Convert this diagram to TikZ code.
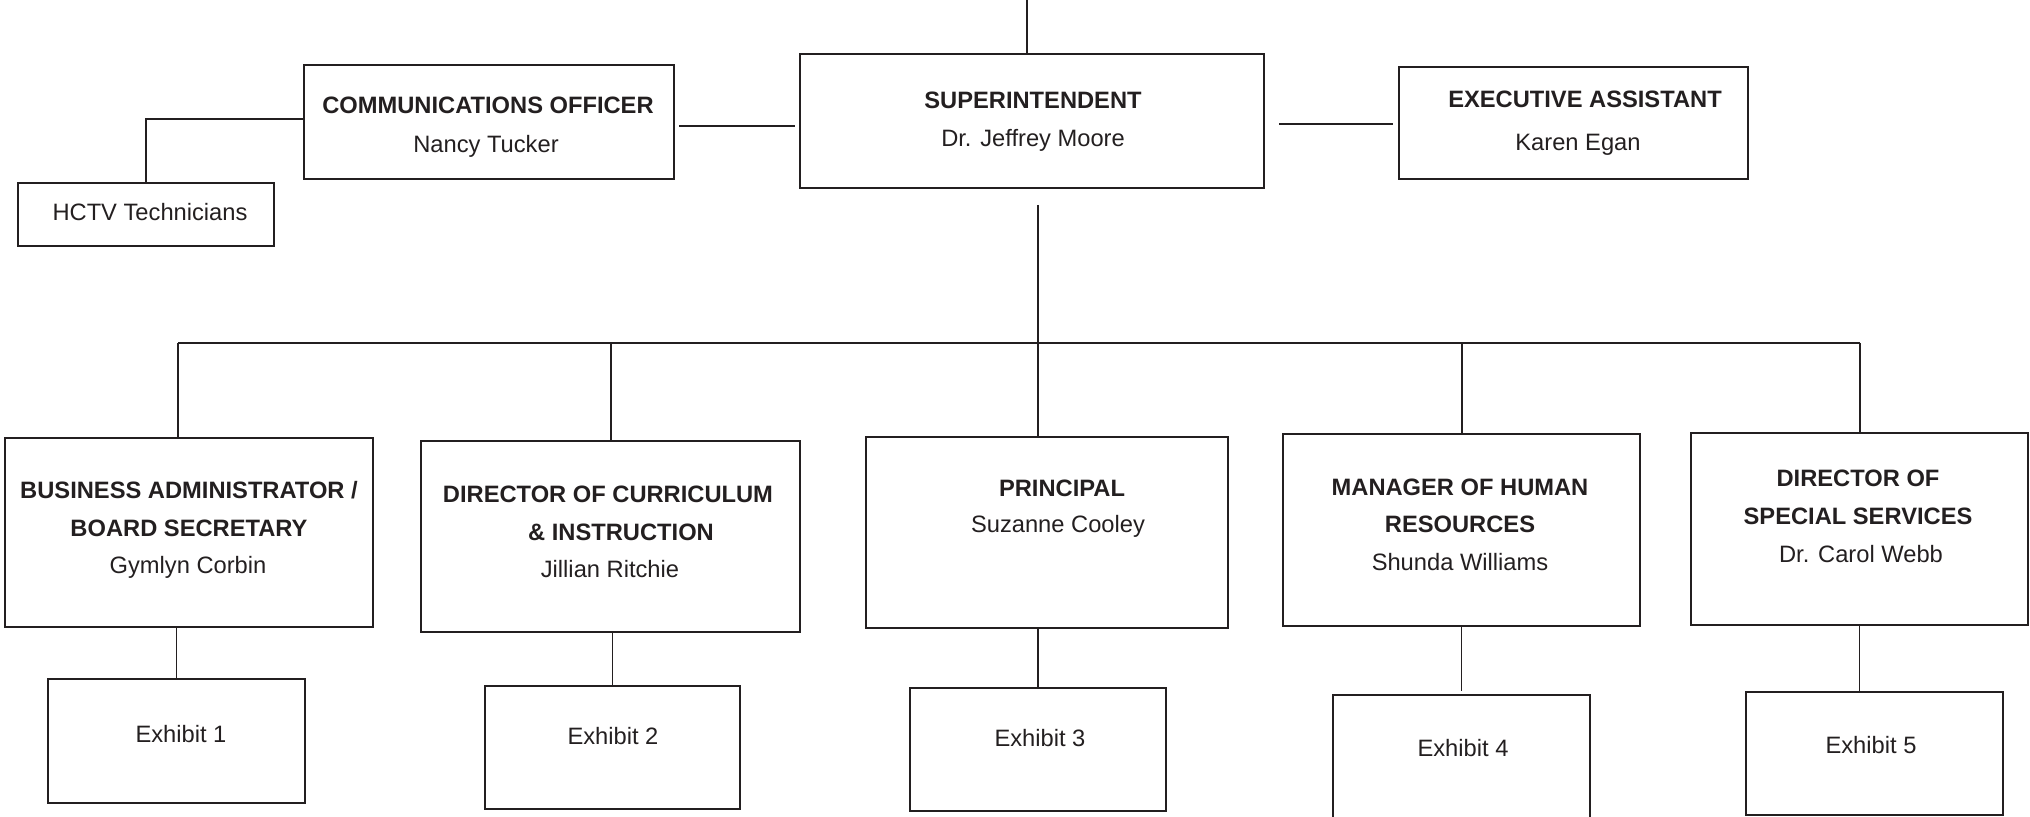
\documentclass[tikz,border=0pt]{standalone}
\usepackage{fontspec}
\setmainfont{Liberation Sans}
\usetikzlibrary{fit,calc}
\definecolor{ink}{HTML}{231F20}
\begin{document}
\begin{tikzpicture}[x=0.5pt,y=-0.5pt,
  box/.style={draw=ink, line width=1.3pt, inner sep=0pt},
  lbl/.style={anchor=base, inner sep=0pt, text=ink, font=\fontsize{11.85pt}{14pt}\selectfont},
  hd/.style={lbl, font=\fontsize{11.85pt}{14pt}\selectfont\bfseries},
  link/.style={draw=ink, line width=0.9pt},
  bus/.style={draw=ink, line width=1.2pt}]
\useasboundingbox (0,0) rectangle (2030,817);

% top row
\node[box, fit={(800,54) (1264,188)}] (sup) {};
\node[box, fit={(304,65) (674,179)}] (comm) {};
\node[box, fit={(1399,67) (1748,179)}] (exec) {};
\node[box, fit={(18,183) (274,246)}] (hctv) {};

% department heads
\node[box, fit={(5,438) (373,627)}] (ba) {};
\node[box, fit={(421,441) (800,632)}] (ci) {};
\node[box, fit={(866,437) (1228,628)}] (pr) {};
\node[box, fit={(1283,434) (1640,626)}] (hr) {};
\node[box, fit={(1691,433) (2028,625)}] (ss) {};

% exhibits
\node[box, fit={(48,679) (305,803)}] (ex1) {};
\node[box, fit={(485,686) (740,809)}] (ex2) {};
\node[box, fit={(910,688) (1166,811)}] (ex3) {};
\node[box, fit={(1333,695) (1590,830)}] (ex4) {};
\node[box, fit={(1746,692) (2003,815)}] (ex5) {};

% labels
\node[hd]  (supA)  at (1033,109) {SUPERINTENDENT};
\node[lbl] (supB)  at (1033,147) {Dr. Jeffrey Moore};
\node[hd]  (commA) at (488,114) {COMMUNICATIONS OFFICER};
\node[lbl] (commB) at (486,153) {Nancy Tucker};
\node[hd]  (execA) at (1585,108) {EXECUTIVE ASSISTANT};
\node[lbl] (execB) at (1578,151) {Karen Egan};
\node[lbl] (hctvA) at (150,221) {HCTV Technicians};

\node[hd]  (baA) at (189,499) {BUSINESS ADMINISTRATOR /};
\node[hd]  (baB) at (189,537) {BOARD SECRETARY};
\node[lbl] (baC) at (188,574) {Gymlyn Corbin};
\node[hd]  (ciA) at (608,503) {DIRECTOR OF CURRICULUM};
\node[hd]  (ciB) at (621,541) {\& INSTRUCTION};
\node[lbl] (ciC) at (610,578) {Jillian Ritchie};
\node[hd]  (prA) at (1062,497) {PRINCIPAL};
\node[lbl] (prB) at (1058,533) {Suzanne Cooley};
\node[hd]  (hrA) at (1460,496) {MANAGER OF HUMAN};
\node[hd]  (hrB) at (1460,533) {RESOURCES};
\node[lbl] (hrC) at (1460,571) {Shunda Williams};
\node[hd]  (ssA) at (1858,487) {DIRECTOR OF};
\node[hd]  (ssB) at (1858,525) {SPECIAL SERVICES};
\node[lbl] (ssC) at (1861,563) {Dr. Carol Webb};

\node[lbl] (ex1t) at (181,742) {Exhibit 1};
\node[lbl] (ex2t) at (613,744) {Exhibit 2};
\node[lbl] (ex3t) at (1040,747) {Exhibit 3};
\node[lbl] (ex4t) at (1463,756) {Exhibit 4};
\node[lbl] (ex5t) at (1871,754) {Exhibit 5};

% connectors, top row
\coordinate (topend) at (1027,0);
\draw[link] (topend) -- (topend |- sup.north);
\coordinate (cs1) at (679,126);
\coordinate (cs2) at (795,126);
\draw[link] (cs1) -- (cs2);
\coordinate (se1) at (1279,124);
\coordinate (se2) at (1393,124);
\draw[link] (se1) -- (se2);
\coordinate (hturn) at (146,119);
\draw[link] (comm.west |- hturn) -- (hturn) -- (hctv.north -| hturn);

% connectors, bus to department heads
\coordinate (sdown) at (1038,205);
\coordinate (busmid) at (1038,343);
\coordinate (busL) at (178,343);
\coordinate (busR) at (1860,343);
\coordinate (busB) at (611,343);
\coordinate (busD) at (1462,343);
\draw[link] (sdown) -- (busmid);
\draw[bus] (busL) -- (busR);
\draw[link] (busL) -- (busL |- ba.north);
\draw[link] (busB) -- (busB |- ci.north);
\draw[link] (busmid) -- (busmid |- pr.north);
\draw[link] (busD) -- (busD |- hr.north);
\draw[link] (busR) -- (busR |- ss.north);

% connectors to exhibits
\draw[link] (ex1.north) -- (ex1.north |- ba.south);
\draw[link] (ex2.north) -- (ex2.north |- ci.south);
\draw[link] (ex3.north) -- (ex3.north |- pr.south);
\draw[link] ($(ex4.north)+(0,-3)$) -- (ex4.north |- hr.south);
\draw[link] (ss.south) -- (ss.south |- ex5.north);
\end{tikzpicture}
\end{document}
